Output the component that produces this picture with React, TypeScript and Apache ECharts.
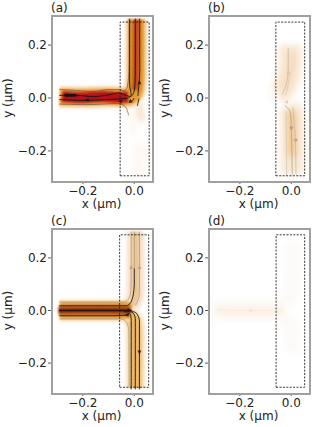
import React, { useEffect, useRef } from "react";
import * as echarts from "echarts";

type P = number[][];

const panelLabels = ["(a)", "(b)", "(c)", "(d)"];
const xTicks = [-0.2, 0];
const yTicks = [-0.2, 0, 0.2];
const xName = "x (μm)";
const yName = "y (μm)";

// dashed boxes
const boxA: P = [[-0.055, -0.294], [0.058, -0.294], [0.058, 0.287], [-0.055, 0.287], [-0.055, -0.294]];
const boxB: P = [[-0.06, -0.294], [0.052, -0.294], [0.052, 0.287], [-0.06, 0.287], [-0.06, -0.294]];
const boxC: P = [[-0.057, -0.292], [0.056, -0.292], [0.056, 0.288], [-0.057, 0.288], [-0.057, -0.292]];
const boxD: P = [[-0.059, -0.292], [0.052, -0.292], [0.052, 0.288], [-0.059, 0.288], [-0.059, -0.292]];

// heat bands, panel (a)
const aBand: P = [[-0.29, 0.004], [-0.2, 0.003], [-0.1, 0.005], [-0.05, 0.003], [-0.02, 0.005], [0, 0.022], [0.006, 0.055], [0.008, 0.1], [0.008, 0.298]];
const aRed: P = [[-0.28, 0.006], [-0.2, 0.001], [-0.12, 0.006], [-0.06, 0.002], [-0.025, 0.004]];
const aVert: P = [[0.002, 0.03], [0.006, 0.07], [0.008, 0.298]];
const aTailR: P = [[0.012, -0.01], [0.022, -0.05], [0.03, -0.09]];
const aTailL: P = [[-0.028, -0.035], [-0.012, -0.075], [-0.002, -0.14]];
const aTailM: P = [[0.03, -0.17], [0.015, -0.24], [0.02, -0.29]];

// heat bands, panel (b)
const bLow: P = [[-0.008, -0.03], [0.002, -0.06], [0.004, -0.12], [0.004, -0.285]];
const bLowCore: P = [[0.0, -0.05], [0.003, -0.1], [0.003, -0.22]];
const bUp: P = [[-0.055, 0.012], [-0.03, 0.035], [-0.012, 0.08], [-0.004, 0.13], [-0.003, 0.2]];
const bUpCore: P = [[-0.03, 0.035], [-0.012, 0.07], [-0.002, 0.12], [-0.002, 0.17]];
const bTip: P = [[-0.085, 0.008], [-0.05, 0.012]];

// heat bands, panel (c)
const cHoriz: P = [[-0.29, 0.0], [-0.15, 0.0], [-0.03, 0.0], [-0.012, 0.0]];
const cCore: P = [[-0.295, 0.0], [-0.15, 0.001], [-0.015, 0.0]];
const cUp: P = [[-0.022, 0.018], [-0.004, 0.035], [0.004, 0.07], [0.005, 0.3]];
const cDown: P = [[-0.022, -0.018], [-0.004, -0.035], [0.004, -0.07], [0.005, -0.295]];

// heat bands, panel (d)
const dHoriz: P = [[-0.3, 0.0], [-0.15, 0.0], [-0.02, 0.0]];
const dInner: P = [[-0.295, 0.0], [-0.15, 0.0], [-0.04, 0.0]];
const dUp: P = [[-0.02, 0.03], [0.0, 0.07], [0.005, 0.14], [0.005, 0.26]];
const dDown: P = [[-0.02, -0.03], [0.0, -0.07], [0.005, -0.12], [0.005, -0.16]];

// streamlines, panel (a)
const aS1: P = [[-0.292, 0.033], [-0.22, 0.028], [-0.16, 0.024], [-0.1, 0.032], [-0.06, 0.032], [-0.04, 0.027], [-0.028, 0.04], [-0.022, 0.08], [-0.02, 0.15], [-0.02, 0.3]];
const aS2: P = [[-0.292, 0.01], [-0.22, 0.01], [-0.16, 0.005], [-0.1, 0.012], [-0.06, 0.019], [-0.03, 0.009], [-0.015, 0.006], [-0.002, 0.02], [0.003, 0.06], [0.004, 0.15], [0.004, 0.3]];
const aS3: P = [[-0.292, -0.006], [-0.2, -0.009], [-0.1, -0.006], [-0.04, -0.002], [-0.022, 0.001], [-0.012, 0.012], [-0.018, 0.05], [-0.018, 0.15], [-0.018, 0.3]];
const aS4: P = [[-0.292, -0.023], [-0.18, -0.025], [-0.066, -0.021], [-0.04, -0.028], [-0.03, -0.04], [-0.022, -0.065]];
const aS5: P = [[0.014, 0.008], [0.018, 0.05], [0.021, 0.1], [0.021, 0.3]];
const aS6: P = [[0.018, -0.002], [0.012, -0.03]];
const aS7: P = [[-0.27, 0.01], [-0.225, 0.01]];
const aS8: P = [[-0.02, -0.012], [-0.008, -0.012], [-0.002, 0.0]];
const aArrows: P = [[-0.268, 0.011, 90], [-0.185, -0.008, 90], [0.02, 0.06, 0], [-0.015, -0.01, 0], [-0.055, -0.012, 90]];

// streamlines, panel (b)
const bS1: P = [[-0.012, 0.19], [-0.012, 0.1], [-0.02, 0.05], [-0.036, 0.012]];
const bS2: P = [[-0.004, 0.1], [-0.012, 0.05], [-0.022, 0.01]];
const bS3: P = [[-0.025, -0.028], [-0.005, -0.05], [0.0, -0.116], [0.004, -0.29]];
const bS4: P = [[0.006, -0.035], [0.016, -0.16], [0.018, -0.29]];
const bS5: P = [[-0.02, -0.05], [-0.018, -0.29]];
const bArrowsMid: P = [[0.0, -0.116, 180], [0.017, -0.163, 180]];
const bArrowsPale: P = [[-0.012, 0.098, 0], [-0.02, -0.015, 90]];

// streamlines, panel (c)
const cDark: P[] = [
  [[-0.292, 0.018], [-0.1, 0.018], [-0.03, 0.018], [-0.014, 0.03], [-0.004, 0.06], [0.0, 0.1], [0.0, 0.16]],
  [[-0.292, -0.02], [-0.1, -0.02], [-0.035, -0.018], [-0.018, -0.012], [-0.012, -0.04], [-0.012, -0.3]],
  [[-0.04, -0.005], [-0.01, -0.006], [0.004, -0.03], [0.004, -0.3]],
  [[-0.02, 0.0], [0.008, -0.01], [0.02, -0.04], [0.02, -0.3]],
];
const cCentre: P = [[-0.292, 0.0], [-0.1, 0.0], [-0.03, 0.0], [-0.01, 0.0]];
const cGrey: P[] = [
  [[-0.292, 0.032], [-0.1, 0.032], [-0.04, 0.032], [-0.02, 0.048], [-0.013, 0.085], [-0.012, 0.3]],
  [[-0.292, -0.032], [-0.1, -0.032], [-0.05, -0.032], [-0.03, -0.045], [-0.021, -0.08], [-0.02, -0.29]],
  [[0.0, 0.16], [0.0, 0.3]],
  [[0.005, 0.02], [0.018, 0.05], [0.02, 0.1], [0.02, 0.3]],
];
const cArrowsDark: P = [[-0.03, -0.017, 90], [-0.018, 0.001, 270], [0.02, -0.16, 180]];
const cArrowsGrey: P = [[-0.012, 0.165, 0], [0.02, 0.165, 0]];

// streamlines, panel (d)
const dS1: P = [[-0.29, 0.003], [-0.15, 0.0], [-0.03, 0.002]];
const dArrows: P = [[-0.16, 0.0, 90]];

// colour stacks, outer to inner: [stroke width, colour]
const stackMain = [[23, "#fbe8d0"], [19, "#f3c587"], [15, "#e79a30"]];
const stackRed = [[12, "#c8481a"], [9, "#b5111a"]];
const stackVert = [[11, "#d9861f"], [6, "#c04a1b"]];
const stackTail = [[5, "#fcf4ea"]];
const stackTailStrong = [[5, "#f8e6cf"], [2, "#f0c590"]];
const stackPale = [[25, "#fbf1e4"], [18, "#f8e6d0"]];
const stackPaleCore = [[11, "#f5d6ae"], [6, "#f1c790"]];
const stackUpperCore = [[11, "#f8e2c8"], [6, "#f6dabb"]];
const stackWhisper = [[14, "#fdf8f2"]];
const stackCHoriz = [[22, "#fae3c4"], [18, "#efb562"], [14, "#dc8f2a"]];
const stackCCore = [[9, "#b85c1e"], [4, "#7d2c12"]];
const stackCUp = [[20, "#fbeee0"], [14, "#f6dfc6"], [7, "#edc695"]];
const stackCDown = [[21, "#fbecd8"], [15, "#f4d29e"], [10, "#ecb662"]];
const stackDOuter = [[20, "#fdf9f4"], [11, "#fbf4ea"]];
const stackDInner = [[3, "#fbefe2"]];
const stackDVert = [[16, "#fcfaf7"]];

type Band = [number, P, (string | number)[][]];
const sharpBands: Band[] = [
  [0, aBand, stackMain],
  [0, aRed, stackRed],
  [0, aVert, stackVert],
  [2, cUp, stackCUp],
  [2, cDown, stackCDown],
  [2, cHoriz, stackCHoriz],
  [2, cCore, stackCCore],
];
const softBands: Band[] = [
  [0, aTailR, stackTailStrong],
  [0, aTailL, stackTail],
  [0, aTailM, stackWhisper],
  [1, bLow, stackPale],
  [1, bUp, stackPale],
  [1, bTip, stackWhisper],
  [1, bLowCore, stackPaleCore],
  [1, bUpCore, stackUpperCore],
  [3, dUp, stackDVert],
  [3, dDown, stackDVert],
  [3, dHoriz, stackDOuter],
  [3, dInner, stackDInner],
];

const GRIDS = [
  { left: 52, top: 16, width: 99, height: 164 },
  { left: 209, top: 16, width: 99, height: 164 },
  { left: 52, top: 229, width: 99, height: 163 },
  { left: 209, top: 229, width: 99, height: 163 },
];
const XMIN = -0.32;
const XMAX = 0.065;
const YMIN = -0.31;
const YMAX = 0.31;
const TEXT = "#222222";
const FONT = "DejaVu Sans";
const SIZE = 12;

function fmt(v: number) {
  return (v < 0 ? "−" : "") + Math.abs(v).toFixed(1);
}

function axes(visible: boolean) {
  const common = {
    type: "value",
    show: visible,
    nameLocation: "middle",
    nameTextStyle: { color: TEXT, fontFamily: FONT, fontSize: SIZE },
    splitLine: { show: false },
    axisLine: { show: false, onZero: false },
    axisTick: { show: false },
  };
  const x = GRIDS.map((_, i) => ({
    ...common,
    gridIndex: i,
    min: XMIN,
    max: XMAX,
    name: xName,
    nameGap: 18,
    axisLabel: { customValues: xTicks, formatter: fmt, color: TEXT, fontFamily: FONT, fontSize: SIZE, margin: 5 },
  }));
  const y = GRIDS.map((_, i) => ({
    ...common,
    gridIndex: i,
    min: YMIN,
    max: YMAX,
    name: yName,
    nameGap: 33,
    axisLabel: { customValues: yTicks, formatter: fmt, color: TEXT, fontFamily: FONT, fontSize: SIZE, margin: 5 },
  }));
  return { xAxis: x, yAxis: y };
}

function line(i: number, data: P, color: string, width: number, extra: any = {}) {
  return {
    type: "line",
    xAxisIndex: i,
    yAxisIndex: i,
    data,
    showSymbol: false,
    silent: true,
    smooth: 0.3,
    lineStyle: { color, width, ...extra },
  };
}

function arrows(i: number, data: P, color: string) {
  return {
    type: "scatter",
    xAxisIndex: i,
    yAxisIndex: i,
    data,
    symbol: "triangle",
    symbolSize: 4,
    symbolRotate: (v: number[]) => v[2],
    silent: true,
    itemStyle: { color },
  };
}

function tickMarks(i: number) {
  const base = {
    type: "scatter",
    xAxisIndex: i,
    yAxisIndex: i,
    symbol: "rect",
    silent: true,
    clip: false,
    itemStyle: { color: "#333" },
  };
  return [
    { ...base, data: xTicks.map((x) => [x, YMIN]), symbolSize: [1, 3], symbolOffset: [0, 2.5] },
    { ...base, data: yTicks.map((y) => [XMIN, y]), symbolSize: [3, 1], symbolOffset: [-2.5, 0] },
  ];
}

function bandSeries(list: Band[]) {
  const out: any[] = [];
  list.forEach(([i, path, stack]) => {
    stack.forEach(([w, c]) => out.push(line(i, path, c as string, w as number)));
  });
  return out;
}

export default function App() {
  const softRef = useRef<HTMLDivElement>(null);
  const heatRef = useRef<HTMLDivElement>(null);
  const topRef = useRef<HTMLDivElement>(null);

  useEffect(() => {
    const soft = echarts.init(softRef.current!, undefined, { renderer: "svg" });
    const heat = echarts.init(heatRef.current!, undefined, { renderer: "svg" });
    const top = echarts.init(topRef.current!, undefined, { renderer: "svg" });

    soft.setOption({ animation: false, grid: GRIDS, ...axes(false), series: bandSeries(softBands) });
    heat.setOption({ animation: false, grid: GRIDS, ...axes(false), series: bandSeries(sharpBands) });

    const K = "#141414";
    const G1 = "#c4b9ac";
    const G2 = "#d6c9b8";
    const topSeries: any[] = [
      line(0, aS1, "#6a5844", 0.7),
      line(0, aS2, K, 0.9),
      line(0, aS3, K, 0.9),
      line(0, aS4, "#6a5844", 0.7),
      line(0, aS5, K, 0.9),
      line(0, aS6, K, 0.9),
      line(0, aS7, K, 2.6),
      line(0, aS8, K, 0.9),
      arrows(0, aArrows, K),
      line(1, bS1, G1, 0.8),
      line(1, bS2, G2, 0.8),
      line(1, bS3, "#b3a18e", 0.8),
      line(1, bS4, G1, 0.8),
      line(1, bS5, G2, 0.8),
      arrows(1, bArrowsMid, "#9a8e84"),
      arrows(1, bArrowsPale, "#d4cbc2"),
      ...cGrey.map((p) => line(2, p, "#a08f7c", 0.7)),
      ...cDark.map((p) => line(2, p, K, 0.9)),
      line(2, cCentre, "#2a120a", 1.6),
      arrows(2, cArrowsDark, K),
      arrows(2, cArrowsGrey, "#bba88f"),
      line(3, dS1, "#f5e6d6", 0.6),
      arrows(3, dArrows, "#ece1d5"),
      ...[boxA, boxB, boxC, boxD].map((b, i) => ({
        ...line(i, b, "#222", 0.9, { type: [2, 1.4] }),
        smooth: false,
      })),
      ...GRIDS.flatMap((_, i) => tickMarks(i)),
    ];

    top.setOption({
      animation: false,
      title: GRIDS.map((g, i) => ({
        text: panelLabels[i],
        left: g.left - 1,
        top: g.top - 14,
        padding: 0,
        textStyle: { fontFamily: FONT, fontSize: SIZE, fontWeight: "normal", color: TEXT },
      })),
      grid: GRIDS,
      ...axes(true),
      series: topSeries,
    });

    return () => {
      soft.dispose();
      heat.dispose();
      top.dispose();
    };
  }, []);

  const layer: React.CSSProperties = { position: "absolute", left: 0, top: 0, width: 312, height: 427 };
  return (
    <div style={{ position: "fixed", left: 0, top: 0, width: 312, height: 427, background: "#fff", overflow: "hidden" }}>
      <div ref={softRef} style={{ ...layer, filter: "blur(3px)" }} />
      <div ref={heatRef} style={{ ...layer, filter: "blur(1.3px)" }} />
      <div ref={topRef} style={{ ...layer, zIndex: 5 }} />
      {GRIDS.map((g, i) => (
        <div
          key={i}
          style={{
            position: "absolute",
            zIndex: 10,
            left: g.left - 1,
            top: g.top - 1,
            width: g.width,
            height: g.height,
            border: "2px solid #a0a0a0",
          }}
        />
      ))}
    </div>
  );
}
